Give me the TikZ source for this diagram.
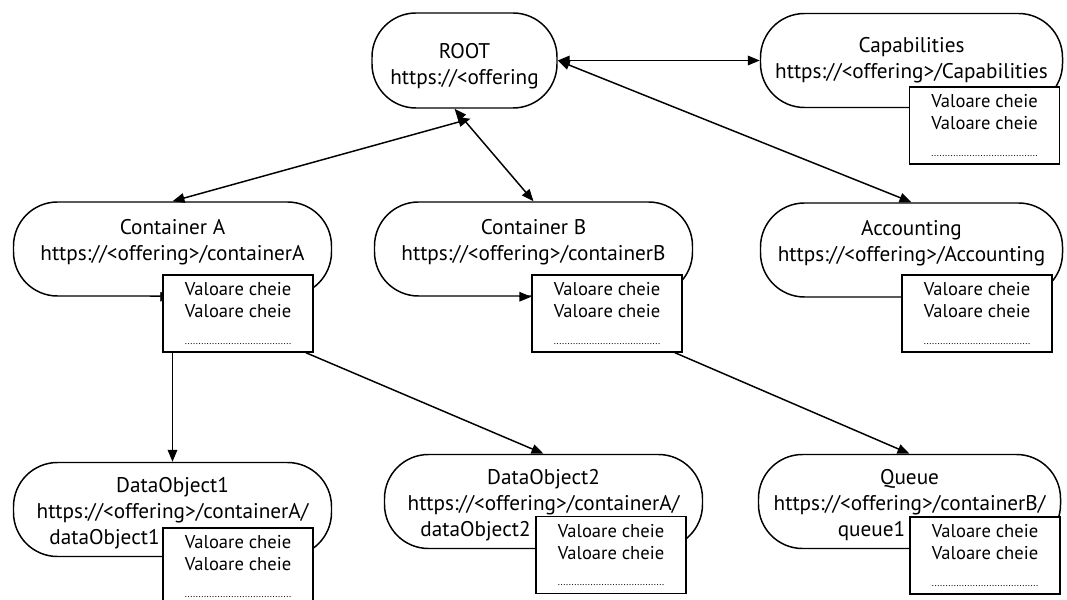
\documentclass[tikz,border=0pt]{standalone}
\usepackage{fontspec}
\setmainfont{PT Sans}
\usetikzlibrary{arrows.meta,positioning,backgrounds}
\newcommand{\kvdots}{{\fontsize{7}{8}\selectfont .......................................}}

\begin{document}
\begin{tikzpicture}[line width=1.05pt,
  res/.style={draw, rounded corners=1.1cm, align=center, minimum width=7.95cm, minimum height=2.35cm, font=\fontsize{15.1}{18.5}\selectfont},
  resr/.style={res, minimum width=7.55cm},
  up/.style={text depth=0.45cm},
  down/.style={text height=#1},
  kv/.style={draw, fill=white, align=center, minimum width=3.75cm, minimum height=1.925cm, inner sep=2pt, font=\fontsize{13.2}{15.6}\selectfont},
  arr/.style={-{Triangle[length=3mm, width=2.4mm]}},
  darr/.style={{Triangle[length=3mm, width=2.4mm]}-{Triangle[length=3mm, width=2.4mm]}}]
\useasboundingbox (0,0) rectangle (26.675,14.975);
% rand 0
\node[res, down=1.33cm, minimum width=4.625cm, minimum height=2.375cm] (root) at (11.6125,13.4625) {ROOT\\https://<offering};
\node[resr] (cap) at (22.7875,13.4625) {Capabilities\\https://<offering>/Capabilities};
\node[kv] (kvcap) at (24.6125,11.8375) {Valoare cheie\\Valoare cheie\\[3pt]\kvdots};
% rand 1
\node[res, up]  (conta) at (4.3125,8.75)   {Container A\\https://<offering>/containerA};
\node[kv]       (kva)   at (5.95,7.1375)   {Valoare cheie\\Valoare cheie\\[3pt]\kvdots};
\node[res, up]  (contb) at (13.3375,8.75)  {Container B\\https://<offering>/containerB};
\node[kv]       (kvb)   at (15.175,7.1375) {Valoare cheie\\Valoare cheie\\[3pt]\kvdots};
\node[resr, up] (acc)   at (22.7875,8.725) {Accounting\\https://<offering>/Accounting};
\node[kv]       (kvacc) at (24.425,7.1375) {Valoare cheie\\Valoare cheie\\[3pt]\kvdots};
% rand 2
\node[res, down=1.88cm]  (dobj1) at (4.3125,2.2375)  {DataObject1\\https://<offering>/containerA/\\dataObject1\hspace*{3.4cm}};
\node[kv]                (kvd1)  at (5.95,0.8125)    {Valoare cheie\\Valoare cheie\\[3pt]\kvdots};
\node[res, down=1.88cm]  (dobj2) at (13.5875,2.4375) {DataObject2\\https://<offering>/containerA/\\dataObject2\hspace*{3.4cm}};
\node[kv]                (kvd2)  at (15.275,1.1)     {Valoare cheie\\Valoare cheie\\[3pt]\kvdots};
\node[resr, down=1.88cm] (queue) at (22.7375,2.4375) {Queue\\https://<offering>/containerB/\\queue1\hspace*{1.9cm}};
\node[kv]                (kvq)   at (24.625,1.0875)  {Valoare cheie\\Valoare cheie\\[3pt]\kvdots};
% muchii
\draw[darr] (root) -- (cap);
\draw[darr] (root.east) -- (acc.north);
\draw[darr] (conta.north) -- ([shift={(0.15,-0.25)}]root.south);
\draw[darr] ([xshift=-0.25cm]root.south) -- (contb.north);
\draw[arr]  (dobj1.north |- kva.south) -- (dobj1.north);
\draw[arr]  (kva.-30) -- (dobj2.north);
\draw[arr]  (kvb.-30) -- (queue.north);
\draw[arr]  ([xshift=-0.3cm]kvb.west |- contb.south) -- (kvb.west |- contb.south);
\begin{scope}[on background layer]
\draw[arr]  ([xshift=-0.3cm]kva.west |- conta.south) -- ([xshift=0.25cm]kva.west |- conta.south);
\end{scope}
\end{tikzpicture}
\end{document}
